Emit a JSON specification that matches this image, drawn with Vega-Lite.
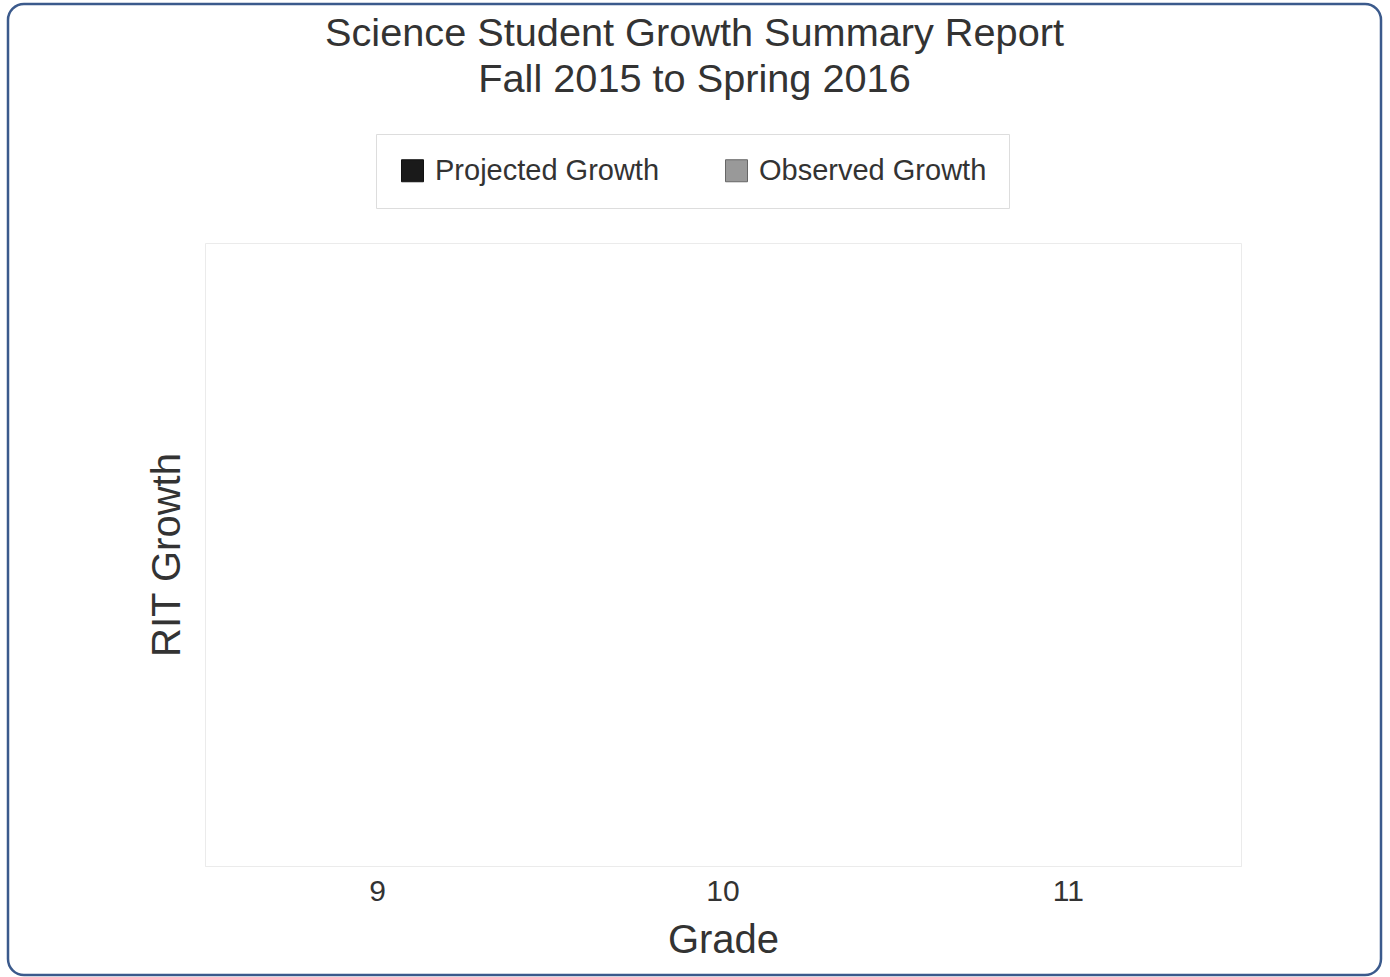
{
  "$schema": "https://vega.github.io/schema/vega-lite/v6.json",
  "width": 1373,
  "height": 971,
  "autosize": {"type": "none"},
  "padding": {"left": 8, "top": 4, "right": 9, "bottom": 2},
  "background": "white",
  "title": {
    "text": ["Science Student Growth Summary Report", "Fall 2015 to Spring 2016"],
    "anchor": "middle",
    "frame": "group",
    "font": "Liberation Sans",
    "fontSize": 39.7,
    "fontWeight": "normal",
    "color": "#333333",
    "lineHeight": 46,
    "baseline": "alphabetic",
    "offset": -127.5
  },
  "data": {
    "values": [
      {"grade": 9, "growth_type": "Projected Growth", "rit_growth": null},
      {"grade": 9, "growth_type": "Observed Growth", "rit_growth": null},
      {"grade": 10, "growth_type": "Projected Growth", "rit_growth": null},
      {"grade": 10, "growth_type": "Observed Growth", "rit_growth": null},
      {"grade": 11, "growth_type": "Projected Growth", "rit_growth": null},
      {"grade": 11, "growth_type": "Observed Growth", "rit_growth": null}
    ]
  },
  "layer": [
    {
      "mark": {"type": "bar"},
      "encoding": {
        "x": {
          "field": "grade",
          "type": "ordinal",
          "scale": {"domain": [9, 10, 11], "range": [197, 1233], "paddingInner": 0.2, "paddingOuter": 0.1},
          "axis": {
            "title": "Grade",
            "titleFont": "Liberation Sans",
            "titleFontSize": 40,
            "titleFontWeight": "normal",
            "titleColor": "#333333",
            "titleBaseline": "alphabetic",
            "titleY": 86,
            "labelFont": "Liberation Sans",
            "labelFontSize": 30,
            "labelColor": "#333333",
            "labelAngle": 0,
            "labelPadding": 10,
            "ticks": false,
            "tickSize": 0,
            "grid": false,
            "domain": true,
            "domainColor": "#ebebeb",
            "domainWidth": 1,
            "offset": -109
          }
        },
        "xOffset": {"field": "growth_type", "scale": {"domain": ["Projected Growth", "Observed Growth"]}},
        "y": {
          "field": "rit_growth",
          "type": "quantitative",
          "scale": {"domain": [0, 10], "range": [862, 239], "nice": false, "zero": true},
          "axis": {
            "title": "RIT Growth",
            "titleFont": "Liberation Sans",
            "titleFontSize": 40,
            "titleFontWeight": "normal",
            "titleColor": "#333333",
            "titlePadding": 18,
            "labels": false,
            "ticks": false,
            "tickSize": 0,
            "domain": true,
            "domainColor": "#ebebeb",
            "grid": true,
            "gridColor": "#ebebeb",
            "values": [0, 10],
            "offset": -197
          }
        },
        "color": {
          "field": "growth_type",
          "type": "nominal",
          "scale": {"domain": ["Projected Growth", "Observed Growth"], "range": ["#1a1a1a", "#999999"]},
          "legend": {
            "title": null,
            "orient": "none",
            "legendX": 368,
            "legendY": 130,
            "direction": "horizontal",
            "columns": 2,
            "padding": 22,
            "columnPadding": 62,
            "strokeColor": "#dddddd",
            "fillColor": "white",
            "symbolType": "square",
            "symbolSize": 484,
            "symbolStrokeWidth": 1,
            "labelFont": "Liberation Sans",
            "labelFontSize": 29,
            "labelColor": "#333333",
            "labelOffset": 8,
            "labelLimit": 400
          }
        },
        "stroke": {
          "field": "growth_type",
          "type": "nominal",
          "scale": {"domain": ["Projected Growth", "Observed Growth"], "range": ["#111111", "#666666"]},
          "legend": {
            "title": null,
            "orient": "none",
            "legendX": 368,
            "legendY": 130,
            "direction": "horizontal",
            "columns": 2,
            "padding": 22,
            "columnPadding": 62,
            "strokeColor": "#dddddd",
            "fillColor": "white",
            "symbolType": "square",
            "symbolSize": 484,
            "symbolStrokeWidth": 1,
            "labelFont": "Liberation Sans",
            "labelFontSize": 29,
            "labelColor": "#333333",
            "labelOffset": 8,
            "labelLimit": 400
          }
        }
      }
    },
    {
      "mark": {"type": "bar"},
      "encoding": {
        "x": {"field": "grade", "type": "ordinal"},
        "y": {
          "field": "rit_growth",
          "type": "quantitative",
          "scale": {"domain": [0, 10], "range": [862, 239], "nice": false, "zero": true},
          "axis": {
            "orient": "right",
            "title": null,
            "labels": false,
            "ticks": false,
            "tickSize": 0,
            "grid": false,
            "domain": true,
            "domainColor": "#ebebeb",
            "offset": -140
          }
        }
      }
    }
  ],
  "resolve": {"scale": {"y": "independent"}, "axis": {"y": "independent"}},
  "config": {
    "view": {"stroke": "#3b5a8c", "strokeWidth": 2.5, "cornerRadius": 16, "fill": "white"}
  }
}
